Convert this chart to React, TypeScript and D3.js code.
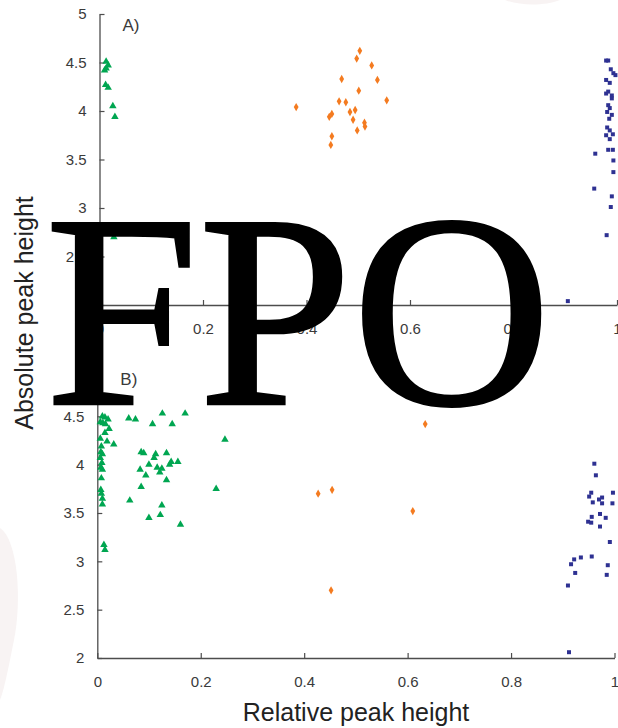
import { useEffect, useRef } from 'react';
import * as d3 from 'd3';

// panel A: [relative, absolute]
const greenA: [number, number][] = [
  [0.007, 4.51], [0.011, 4.47], [0.004, 4.42], [0.007, 4.44], [0.006, 4.27],
  [0.011, 4.24], [0.02, 4.05], [0.024, 3.94], [0.022, 2.7],
];
const orangeA: [number, number][] = [
  [0.503, 4.62], [0.497, 4.54], [0.526, 4.47], [0.468, 4.33], [0.537, 4.32],
  [0.501, 4.21], [0.555, 4.11], [0.463, 4.1], [0.476, 4.09], [0.38, 4.04],
  [0.494, 4.01], [0.484, 3.99], [0.449, 3.97], [0.444, 3.94], [0.49, 3.91],
  [0.512, 3.88], [0.513, 3.84], [0.498, 3.8], [0.449, 3.74], [0.447, 3.65],
];
const blueA: [number, number][] = [
  [0.979, 4.52], [0.983, 4.52], [0.988, 4.43], [0.993, 4.39], [0.997, 4.37],
  [0.979, 4.32], [0.986, 4.29], [0.983, 4.2], [0.979, 4.18], [0.99, 4.16],
  [0.99, 4.13], [0.983, 4.06], [0.986, 4.03], [0.981, 3.99], [0.99, 3.96],
  [0.985, 3.92], [0.981, 3.83], [0.986, 3.8], [0.979, 3.75], [0.992, 3.76],
  [0.986, 3.71], [0.983, 3.6], [0.992, 3.6], [0.993, 3.49], [0.993, 3.37],
  [0.958, 3.56], [0.956, 3.2], [0.99, 3.12], [0.988, 3.01], [0.98, 2.72],
  [0.905, 2.04],
];

// panel B
const greenB: [number, number][] = [
  [0.004, 4.5], [0.009, 4.49], [0.015, 4.47], [0.0, 4.44], [0.005, 4.43],
  [0.01, 4.42], [0.017, 4.37], [0.009, 4.33], [0.013, 4.24], [0.026, 4.21],
  [0.0, 4.27], [0.002, 4.19], [0.001, 4.13], [0.004, 4.11], [0.0, 4.07],
  [0.003, 4.02], [0.001, 3.97], [0.004, 3.95], [0.002, 3.86], [0.001, 3.74],
  [0.002, 3.7], [0.004, 3.65], [0.004, 3.59], [0.007, 3.17], [0.009, 3.12],
  [0.055, 4.48], [0.068, 4.47], [0.12, 4.53], [0.164, 4.53], [0.101, 4.42],
  [0.139, 4.42], [0.241, 4.26], [0.079, 4.13], [0.084, 4.12], [0.107, 4.11],
  [0.128, 4.12], [0.104, 4.07], [0.137, 4.03], [0.15, 4.03], [0.134, 4.0],
  [0.094, 4.0], [0.11, 3.97], [0.119, 3.96], [0.077, 3.95], [0.115, 3.92],
  [0.088, 3.89], [0.128, 3.84], [0.079, 3.77], [0.224, 3.75], [0.057, 3.63],
  [0.119, 3.58], [0.094, 3.45], [0.116, 3.48], [0.155, 3.38],
];
const orangeB: [number, number][] = [
  [0.634, 4.42], [0.61, 3.52], [0.427, 3.7], [0.454, 3.74], [0.452, 2.7],
];
const blueB: [number, number][] = [
  [0.961, 4.01], [0.964, 3.89], [0.955, 3.71], [0.951, 3.67], [0.997, 3.71],
  [0.976, 3.66], [0.97, 3.64], [0.958, 3.61], [0.976, 3.6], [0.996, 3.6],
  [0.956, 3.46], [0.972, 3.49], [0.983, 3.45], [0.949, 3.41], [0.955, 3.4],
  [0.972, 3.36], [0.991, 3.2], [0.935, 3.04], [0.956, 3.05], [0.922, 3.02],
  [0.916, 2.97], [0.987, 2.96], [0.985, 2.86], [0.924, 2.88], [0.91, 2.75],
  [0.912, 2.06],
];

const xTicks = [0, 0.2, 0.4, 0.6, 0.8, 1];
const yTicks = [2, 2.5, 3, 3.5, 4, 4.5, 5];

const GREEN = '#00a651';
const ORANGE = '#f47b20';
const BLUE = '#2e3192';
const AXIS = '#4d4d4d';
const FONT = 'Liberation Sans, Arial, sans-serif';

const panels = [
  { label: 'A)', x0: 99.5, x1: 617, yTop: 14, yBottom: 305, green: greenA, orange: orangeA, blue: blueA },
  { label: 'B)', x0: 97.3, x1: 614.5, yTop: 368, yBottom: 658, green: greenB, orange: orangeB, blue: blueB },
];

export default function App() {
  const svgRef = useRef<SVGSVGElement>(null);

  useEffect(() => {
    const svg = d3.select(svgRef.current);
    svg.selectAll('*').remove();

    // faint watermark shapes in the background
    svg.append('path')
      .attr('d', 'M0,528 C18,540 22,600 14,640 C8,670 4,690 0,700 Z')
      .attr('fill', '#f8f3f3');
    svg.append('path')
      .attr('d', 'M505,0 C520,6 545,6 560,0 Z')
      .attr('fill', '#f8f3f3');

    const fmt = d3.format('~g');

    panels.forEach(p => {
      const x = d3.scaleLinear().domain([0, 1]).range([p.x0, p.x1]);
      const y = d3.scaleLinear().domain([2, 5]).range([p.yBottom, p.yTop]);
      const g = svg.append('g');

      const xAxis = g.append('g')
        .attr('transform', `translate(0,${p.yBottom})`)
        .call(d3.axisBottom(x).tickValues(xTicks).tickFormat(d => fmt(d as number))
          .tickSize(-5).tickSizeOuter(0).tickPadding(18));
      const yAxis = g.append('g')
        .attr('transform', `translate(${p.x0},0)`)
        .call(d3.axisLeft(y).tickValues(yTicks).tickFormat(d => fmt(d as number))
          .tickSize(-5).tickSizeOuter(0).tickPadding(13));

      [xAxis, yAxis].forEach(a => {
        a.select('.domain').attr('stroke', AXIS).attr('stroke-width', 1.3);
        a.selectAll('.tick line').attr('stroke', AXIS).attr('stroke-width', 1.2);
        a.selectAll('.tick text')
          .attr('fill', '#3a3a3a')
          .attr('font-size', 15)
          .attr('font-family', FONT);
      });

      g.append('text')
        .attr('x', x(0) + 23)
        .attr('y', p.yTop + 17)
        .attr('font-size', 17)
        .attr('font-family', FONT)
        .attr('fill', '#3a3a3a')
        .text(p.label);

      const tri = d3.symbol().type(d3.symbolTriangle).size(24);
      const dia = d3.symbol().type(d3.symbolDiamond).size(20);
      const sq = d3.symbol().type(d3.symbolSquare).size(16);

      g.selectAll('.tri').data(p.green).join('path')
        .attr('d', tri)
        .attr('transform', d => `translate(${x(d[0]) + 3},${y(d[1])})`)
        .attr('fill', GREEN);
      g.selectAll('.dia').data(p.orange).join('path')
        .attr('d', dia)
        .attr('transform', d => `translate(${x(d[0])},${y(d[1])})`)
        .attr('fill', ORANGE);
      g.selectAll('.sq').data(p.blue).join('path')
        .attr('d', sq)
        .attr('transform', d => `translate(${x(d[0])},${y(d[1])})`)
        .attr('fill', BLUE);
    });

    // axis titles
    svg.append('text')
      .attr('transform', 'translate(33,313) rotate(-90)')
      .attr('text-anchor', 'middle')
      .attr('font-size', 25)
      .attr('font-family', FONT)
      .attr('fill', '#222')
      .text('Absolute peak height');
    svg.append('text')
      .attr('x', 356)
      .attr('y', 721)
      .attr('text-anchor', 'middle')
      .attr('font-size', 25)
      .attr('font-family', FONT)
      .attr('fill', '#222')
      .text('Relative peak height');

    // overlay stamp
    svg.append('text')
      .attr('x', 45)
      .attr('y', 404)
      .attr('font-size', 276)
      .attr('font-family', 'Liberation Serif, Times New Roman, serif')
      .attr('fill', '#000')
      .attr('stroke', '#000')
      .attr('stroke-width', 2.5)
      .text('FPO');
  }, []);

  return (
    <svg
      ref={svgRef}
      width={618}
      height={728}
      style={{ position: 'absolute', left: 0, top: 0, background: '#fff' }}
    />
  );
}
